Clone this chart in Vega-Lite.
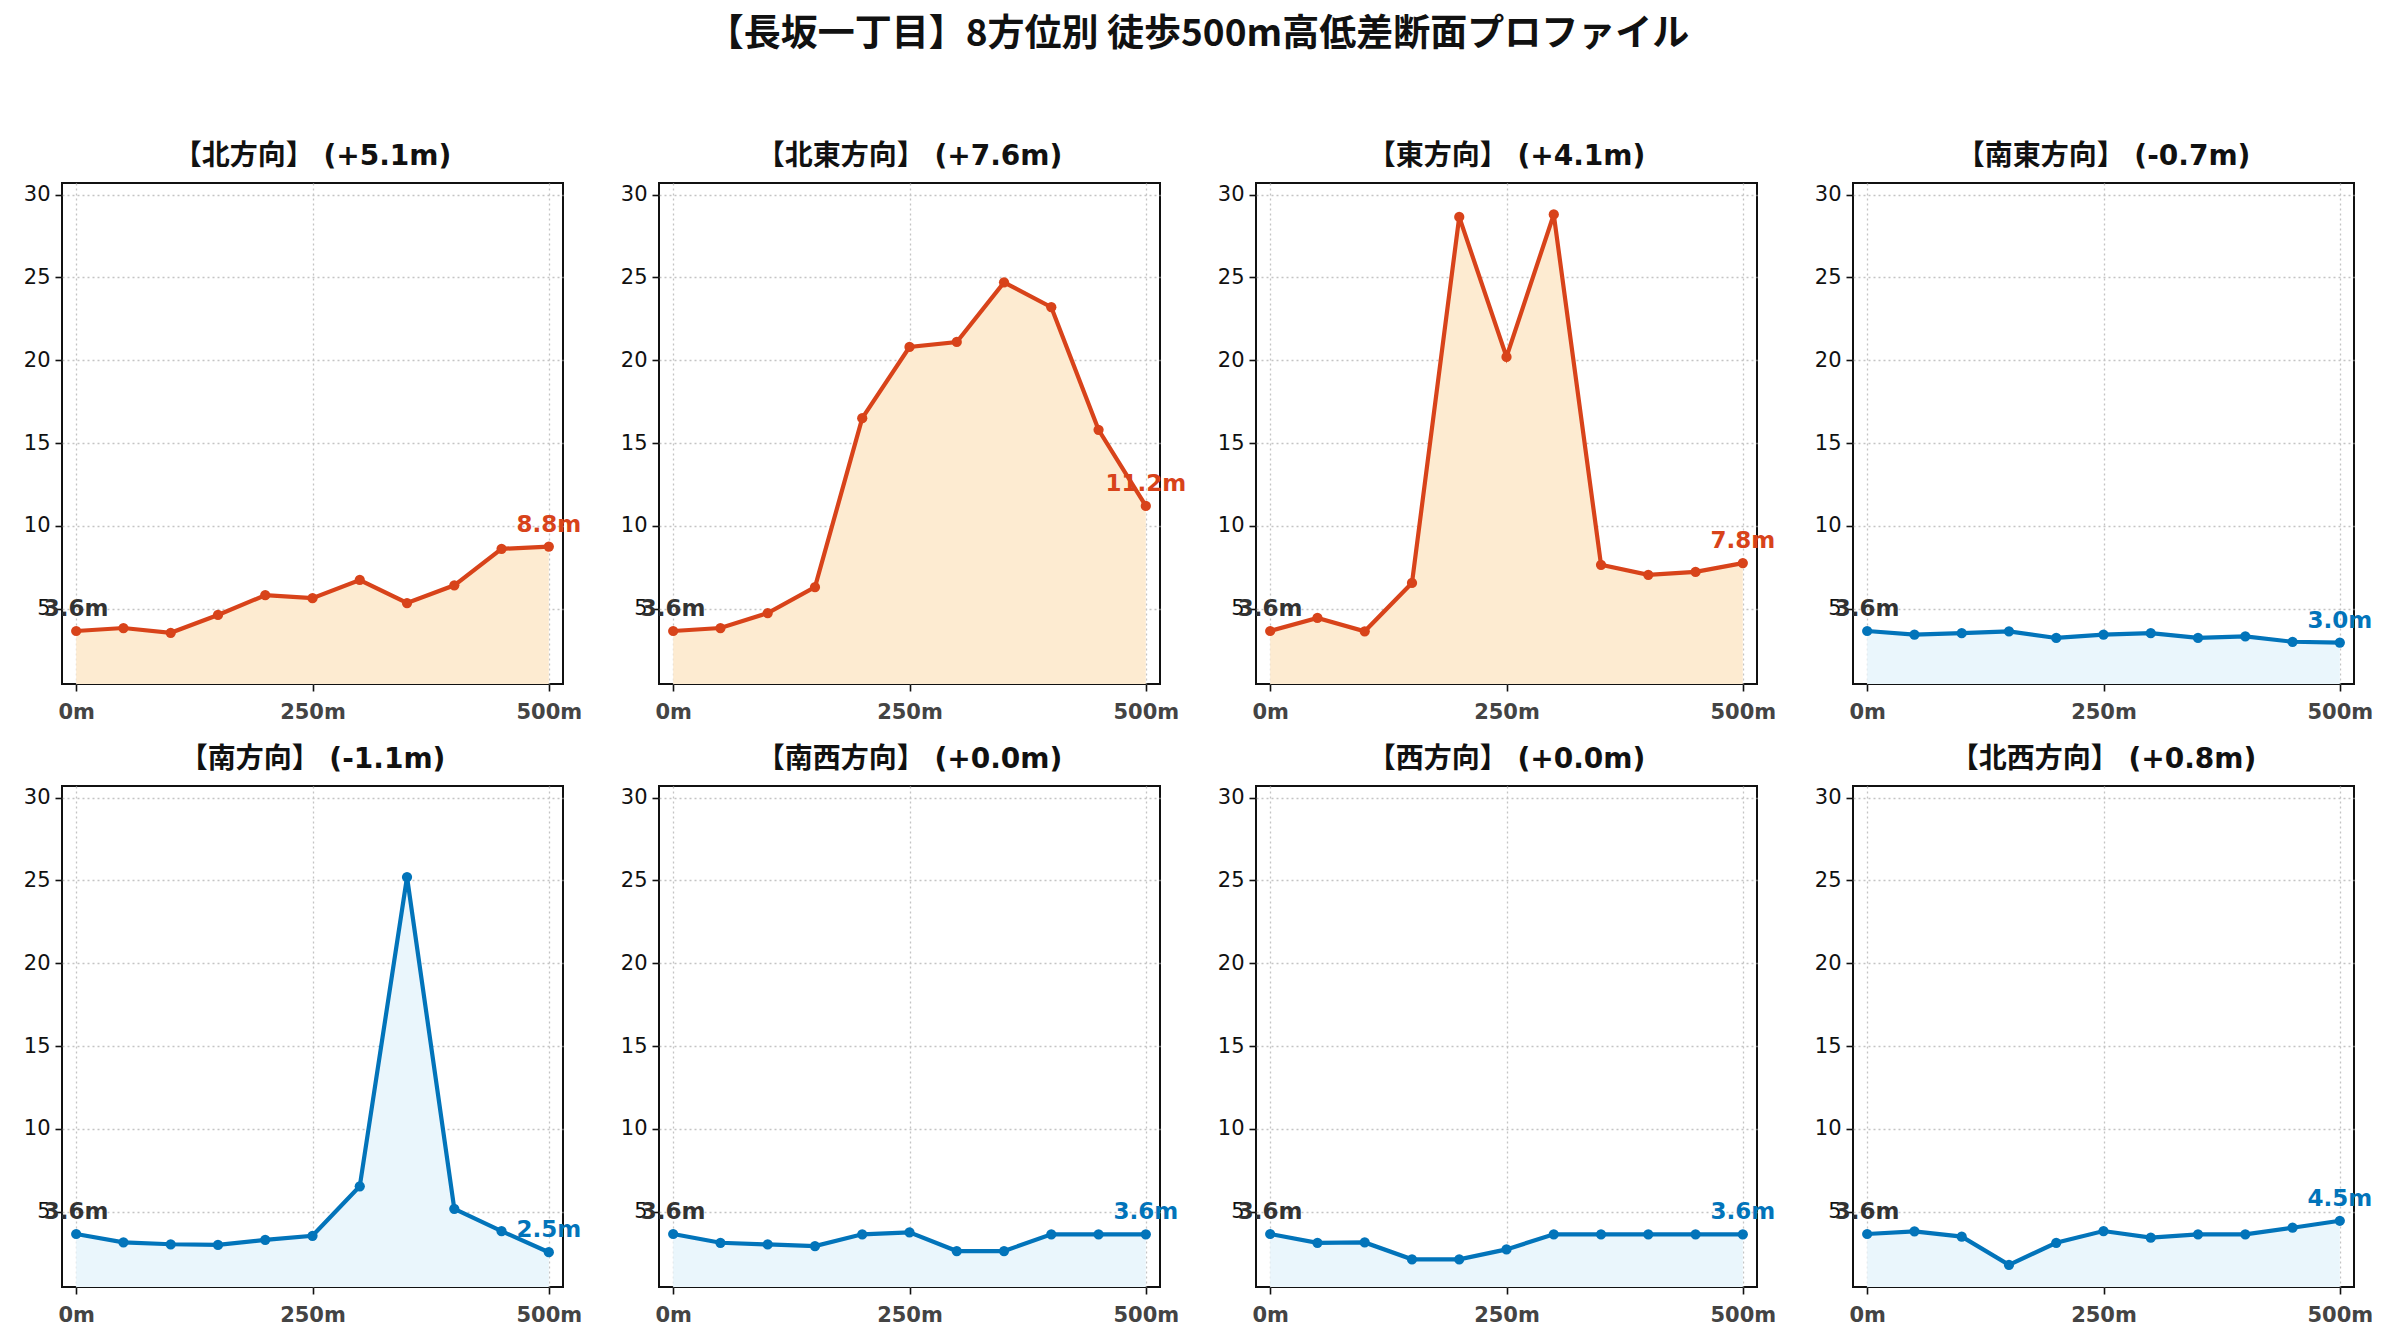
{
  "$schema": "https://vega.github.io/schema/vega-lite/v6.json",
  "padding": {"left": 22, "top": 16, "right": 30, "bottom": 10},
  "background": "white",
  "title": {
    "text": "【長坂一丁目】8方位別 徒歩500m高低差断面プロファイル",
    "font": "Noto Sans CJK JP",
    "fontSize": 37,
    "fontWeight": "bold",
    "color": "#111111",
    "anchor": "middle",
    "offset": 88
  },
  "data": {
    "values": [
      {"order": 1, "title": "【北方向】 (+5.1m)", "trend": "up", "d": 0, "elev": 3.65},
      {"order": 1, "title": "【北方向】 (+5.1m)", "trend": "up", "d": 50, "elev": 3.83},
      {"order": 1, "title": "【北方向】 (+5.1m)", "trend": "up", "d": 100, "elev": 3.54},
      {"order": 1, "title": "【北方向】 (+5.1m)", "trend": "up", "d": 150, "elev": 4.62},
      {"order": 1, "title": "【北方向】 (+5.1m)", "trend": "up", "d": 200, "elev": 5.81},
      {"order": 1, "title": "【北方向】 (+5.1m)", "trend": "up", "d": 250, "elev": 5.63},
      {"order": 1, "title": "【北方向】 (+5.1m)", "trend": "up", "d": 300, "elev": 6.73},
      {"order": 1, "title": "【北方向】 (+5.1m)", "trend": "up", "d": 350, "elev": 5.34},
      {"order": 1, "title": "【北方向】 (+5.1m)", "trend": "up", "d": 400, "elev": 6.41},
      {"order": 1, "title": "【北方向】 (+5.1m)", "trend": "up", "d": 450, "elev": 8.61},
      {"order": 1, "title": "【北方向】 (+5.1m)", "trend": "up", "d": 500, "elev": 8.75},

      {"order": 2, "title": "【北東方向】 (+7.6m)", "trend": "up", "d": 0, "elev": 3.65},
      {"order": 2, "title": "【北東方向】 (+7.6m)", "trend": "up", "d": 50, "elev": 3.83},
      {"order": 2, "title": "【北東方向】 (+7.6m)", "trend": "up", "d": 100, "elev": 4.73},
      {"order": 2, "title": "【北東方向】 (+7.6m)", "trend": "up", "d": 150, "elev": 6.3},
      {"order": 2, "title": "【北東方向】 (+7.6m)", "trend": "up", "d": 200, "elev": 16.5},
      {"order": 2, "title": "【北東方向】 (+7.6m)", "trend": "up", "d": 250, "elev": 20.8},
      {"order": 2, "title": "【北東方向】 (+7.6m)", "trend": "up", "d": 300, "elev": 21.1},
      {"order": 2, "title": "【北東方向】 (+7.6m)", "trend": "up", "d": 350, "elev": 24.7},
      {"order": 2, "title": "【北東方向】 (+7.6m)", "trend": "up", "d": 400, "elev": 23.2},
      {"order": 2, "title": "【北東方向】 (+7.6m)", "trend": "up", "d": 450, "elev": 15.8},
      {"order": 2, "title": "【北東方向】 (+7.6m)", "trend": "up", "d": 500, "elev": 11.2},

      {"order": 3, "title": "【東方向】 (+4.1m)", "trend": "up", "d": 0, "elev": 3.65},
      {"order": 3, "title": "【東方向】 (+4.1m)", "trend": "up", "d": 50, "elev": 4.44},
      {"order": 3, "title": "【東方向】 (+4.1m)", "trend": "up", "d": 100, "elev": 3.63},
      {"order": 3, "title": "【東方向】 (+4.1m)", "trend": "up", "d": 150, "elev": 6.55},
      {"order": 3, "title": "【東方向】 (+4.1m)", "trend": "up", "d": 200, "elev": 28.65},
      {"order": 3, "title": "【東方向】 (+4.1m)", "trend": "up", "d": 250, "elev": 20.2},
      {"order": 3, "title": "【東方向】 (+4.1m)", "trend": "up", "d": 300, "elev": 28.8},
      {"order": 3, "title": "【東方向】 (+4.1m)", "trend": "up", "d": 350, "elev": 7.65},
      {"order": 3, "title": "【東方向】 (+4.1m)", "trend": "up", "d": 400, "elev": 7.04},
      {"order": 3, "title": "【東方向】 (+4.1m)", "trend": "up", "d": 450, "elev": 7.22},
      {"order": 3, "title": "【東方向】 (+4.1m)", "trend": "up", "d": 500, "elev": 7.75},

      {"order": 4, "title": "【南東方向】 (-0.7m)", "trend": "down", "d": 0, "elev": 3.65},
      {"order": 4, "title": "【南東方向】 (-0.7m)", "trend": "down", "d": 50, "elev": 3.43},
      {"order": 4, "title": "【南東方向】 (-0.7m)", "trend": "down", "d": 100, "elev": 3.52},
      {"order": 4, "title": "【南東方向】 (-0.7m)", "trend": "down", "d": 150, "elev": 3.63},
      {"order": 4, "title": "【南東方向】 (-0.7m)", "trend": "down", "d": 200, "elev": 3.23},
      {"order": 4, "title": "【南東方向】 (-0.7m)", "trend": "down", "d": 250, "elev": 3.43},
      {"order": 4, "title": "【南東方向】 (-0.7m)", "trend": "down", "d": 300, "elev": 3.52},
      {"order": 4, "title": "【南東方向】 (-0.7m)", "trend": "down", "d": 350, "elev": 3.23},
      {"order": 4, "title": "【南東方向】 (-0.7m)", "trend": "down", "d": 400, "elev": 3.32},
      {"order": 4, "title": "【南東方向】 (-0.7m)", "trend": "down", "d": 450, "elev": 3.0},
      {"order": 4, "title": "【南東方向】 (-0.7m)", "trend": "down", "d": 500, "elev": 2.95},

      {"order": 5, "title": "【南方向】 (-1.1m)", "trend": "down", "d": 0, "elev": 3.65},
      {"order": 5, "title": "【南方向】 (-1.1m)", "trend": "down", "d": 50, "elev": 3.15},
      {"order": 5, "title": "【南方向】 (-1.1m)", "trend": "down", "d": 100, "elev": 3.03},
      {"order": 5, "title": "【南方向】 (-1.1m)", "trend": "down", "d": 150, "elev": 2.99},
      {"order": 5, "title": "【南方向】 (-1.1m)", "trend": "down", "d": 200, "elev": 3.3},
      {"order": 5, "title": "【南方向】 (-1.1m)", "trend": "down", "d": 250, "elev": 3.54},
      {"order": 5, "title": "【南方向】 (-1.1m)", "trend": "down", "d": 300, "elev": 6.53},
      {"order": 5, "title": "【南方向】 (-1.1m)", "trend": "down", "d": 350, "elev": 25.2},
      {"order": 5, "title": "【南方向】 (-1.1m)", "trend": "down", "d": 400, "elev": 5.17},
      {"order": 5, "title": "【南方向】 (-1.1m)", "trend": "down", "d": 450, "elev": 3.82},
      {"order": 5, "title": "【南方向】 (-1.1m)", "trend": "down", "d": 500, "elev": 2.55},

      {"order": 6, "title": "【南西方向】 (+0.0m)", "trend": "down", "d": 0, "elev": 3.65},
      {"order": 6, "title": "【南西方向】 (+0.0m)", "trend": "down", "d": 50, "elev": 3.12},
      {"order": 6, "title": "【南西方向】 (+0.0m)", "trend": "down", "d": 100, "elev": 3.02},
      {"order": 6, "title": "【南西方向】 (+0.0m)", "trend": "down", "d": 150, "elev": 2.92},
      {"order": 6, "title": "【南西方向】 (+0.0m)", "trend": "down", "d": 200, "elev": 3.63},
      {"order": 6, "title": "【南西方向】 (+0.0m)", "trend": "down", "d": 250, "elev": 3.75},
      {"order": 6, "title": "【南西方向】 (+0.0m)", "trend": "down", "d": 300, "elev": 2.62},
      {"order": 6, "title": "【南西方向】 (+0.0m)", "trend": "down", "d": 350, "elev": 2.62},
      {"order": 6, "title": "【南西方向】 (+0.0m)", "trend": "down", "d": 400, "elev": 3.63},
      {"order": 6, "title": "【南西方向】 (+0.0m)", "trend": "down", "d": 450, "elev": 3.63},
      {"order": 6, "title": "【南西方向】 (+0.0m)", "trend": "down", "d": 500, "elev": 3.63},

      {"order": 7, "title": "【西方向】 (+0.0m)", "trend": "down", "d": 0, "elev": 3.65},
      {"order": 7, "title": "【西方向】 (+0.0m)", "trend": "down", "d": 50, "elev": 3.12},
      {"order": 7, "title": "【西方向】 (+0.0m)", "trend": "down", "d": 100, "elev": 3.14},
      {"order": 7, "title": "【西方向】 (+0.0m)", "trend": "down", "d": 150, "elev": 2.12},
      {"order": 7, "title": "【西方向】 (+0.0m)", "trend": "down", "d": 200, "elev": 2.12},
      {"order": 7, "title": "【西方向】 (+0.0m)", "trend": "down", "d": 250, "elev": 2.72},
      {"order": 7, "title": "【西方向】 (+0.0m)", "trend": "down", "d": 300, "elev": 3.63},
      {"order": 7, "title": "【西方向】 (+0.0m)", "trend": "down", "d": 350, "elev": 3.63},
      {"order": 7, "title": "【西方向】 (+0.0m)", "trend": "down", "d": 400, "elev": 3.63},
      {"order": 7, "title": "【西方向】 (+0.0m)", "trend": "down", "d": 450, "elev": 3.63},
      {"order": 7, "title": "【西方向】 (+0.0m)", "trend": "down", "d": 500, "elev": 3.63},

      {"order": 8, "title": "【北西方向】 (+0.8m)", "trend": "down", "d": 0, "elev": 3.65},
      {"order": 8, "title": "【北西方向】 (+0.8m)", "trend": "down", "d": 50, "elev": 3.81},
      {"order": 8, "title": "【北西方向】 (+0.8m)", "trend": "down", "d": 100, "elev": 3.49},
      {"order": 8, "title": "【北西方向】 (+0.8m)", "trend": "down", "d": 150, "elev": 1.79},
      {"order": 8, "title": "【北西方向】 (+0.8m)", "trend": "down", "d": 200, "elev": 3.12},
      {"order": 8, "title": "【北西方向】 (+0.8m)", "trend": "down", "d": 250, "elev": 3.83},
      {"order": 8, "title": "【北西方向】 (+0.8m)", "trend": "down", "d": 300, "elev": 3.43},
      {"order": 8, "title": "【北西方向】 (+0.8m)", "trend": "down", "d": 350, "elev": 3.63},
      {"order": 8, "title": "【北西方向】 (+0.8m)", "trend": "down", "d": 400, "elev": 3.63},
      {"order": 8, "title": "【北西方向】 (+0.8m)", "trend": "down", "d": 450, "elev": 4.03},
      {"order": 8, "title": "【北西方向】 (+0.8m)", "trend": "down", "d": 500, "elev": 4.45}
    ]
  },
  "facet": {
    "field": "title",
    "type": "nominal",
    "sort": {"field": "order", "op": "min"},
    "header": {
      "title": null,
      "labelFont": "DejaVu Sans, Noto Sans CJK JP",
      "labelFontSize": 28,
      "labelFontWeight": "bold",
      "labelColor": "#111111",
      "labelPadding": 12
    }
  },
  "columns": 4,
  "spacing": {"column": 28, "row": 22},
  "resolve": {"axis": {"x": "independent", "y": "independent"}},
  "spec": {
    "width": 501,
    "height": 501,
    "encoding": {
      "x": {
        "field": "d",
        "type": "quantitative",
        "title": null,
        "scale": {"domain": [-15, 515], "nice": false, "zero": false},
        "axis": {
          "values": [0, 250, 500],
          "labelExpr": "datum.value + 'm'",
          "labelFontWeight": "bold",
          "labelColor": "#444444",
          "labelPadding": 10
        }
      },
      "y": {
        "field": "elev",
        "type": "quantitative",
        "title": null,
        "scale": {"domain": [0.45, 30.7], "nice": false, "zero": false},
        "axis": {"values": [5, 10, 15, 20, 25, 30]}
      }
    },
    "layer": [
      {
        "mark": {"type": "area", "clip": true},
        "encoding": {
          "fill": {
            "field": "trend",
            "type": "nominal",
            "legend": null,
            "scale": {"domain": ["up", "down"], "range": ["#FDEBD1", "#EAF6FC"]}
          }
        }
      },
      {
        "mark": {"type": "line", "strokeWidth": 4.2},
        "encoding": {
          "color": {
            "field": "trend",
            "type": "nominal",
            "legend": null,
            "scale": {"domain": ["up", "down"], "range": ["#D8431A", "#0274BA"]}
          }
        }
      },
      {
        "mark": {"type": "point", "filled": true, "opacity": 1, "size": 105},
        "encoding": {
          "color": {"field": "trend", "type": "nominal", "legend": null}
        }
      },
      {
        "transform": [
          {"filter": "datum.d == 0"},
          {"calculate": "format(datum.elev, '.1f') + 'm'", "as": "lab"}
        ],
        "mark": {"type": "text", "dy": -22, "fontSize": 23, "fontWeight": "bold", "font": "DejaVu Sans", "color": "#333333"},
        "encoding": {"text": {"field": "lab"}}
      },
      {
        "transform": [
          {"filter": "datum.d == 500"},
          {"calculate": "format(datum.elev, '.1f') + 'm'", "as": "lab"}
        ],
        "mark": {"type": "text", "dy": -22, "fontSize": 23, "fontWeight": "bold", "font": "DejaVu Sans"},
        "encoding": {
          "text": {"field": "lab"},
          "color": {"field": "trend", "type": "nominal", "legend": null}
        }
      }
    ]
  },
  "config": {
    "view": {"stroke": "#111111", "strokeWidth": 2},
    "axis": {
      "labelFont": "DejaVu Sans",
      "labelFontSize": 21,
      "labelColor": "#111111",
      "domain": false,
      "tickColor": "#111111",
      "tickSize": 7,
      "tickWidth": 1.6,
      "labelPadding": 5,
      "grid": true,
      "gridColor": "#c4c4c4",
      "gridDash": [2, 3],
      "gridWidth": 1.3
    }
  }
}
